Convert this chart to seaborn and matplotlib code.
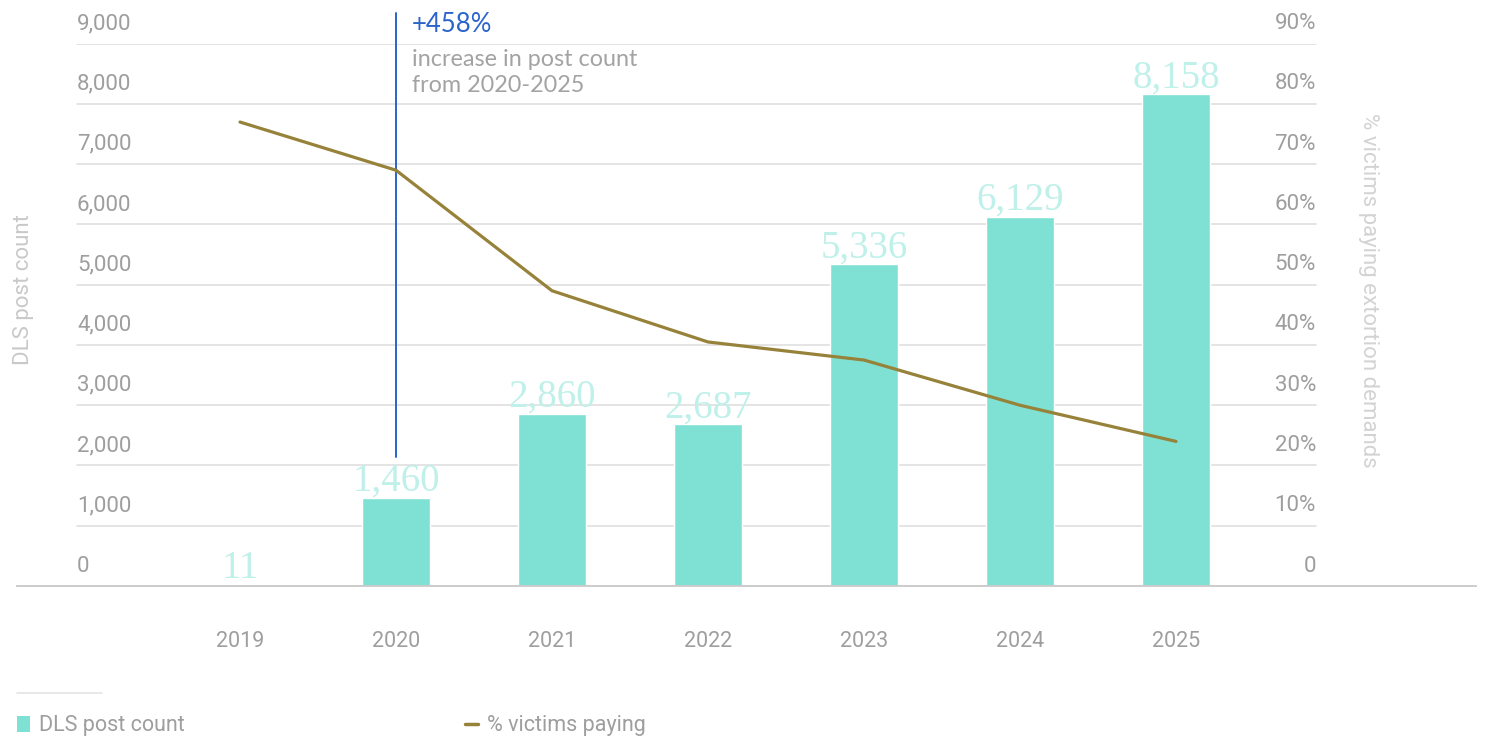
import numpy as np
import matplotlib
matplotlib.use("Agg")
import matplotlib.pyplot as plt
import seaborn as sns
from matplotlib.transforms import blended_transform_factory, ScaledTranslation
from matplotlib.patches import Patch
from matplotlib.lines import Line2D

# ---- data ----
years = ["2019", "2020", "2021", "2022", "2023", "2024", "2025"]
post_counts = [11, 1460, 2860, 2687, 5336, 6129, 8158]
pct_paying = [77, 69, 49, 40.5, 37.5, 30, 24]
count_ticks = [0, 1000, 2000, 3000, 4000, 5000, 6000, 7000, 8000, 9000]
pct_ticks = [0, 10, 20, 30, 40, 50, 60, 70, 80, 90]

# ---- style ----
BAR = "#7fe1d4"
BAR_LABEL = "#bff0e9"
LINE = "#97823a"
BLUE = "#2a64cc"
GRID = "#dcdcdc"
TICK = "#9e9e9e"
TITLE = "#c9c9c9"
NOTE = "#a3a3a3"

sns.set_style("white")
plt.rcParams["font.family"] = ["Roboto", "DejaVu Sans"]

W, H = 1490, 740
fig = plt.figure(figsize=(W / 100, H / 100), dpi=100)


def fx(px):
    return px / W


def fy(py):
    return 1 - py / H


# plot frame in pixel terms
left_px, right_px, base_px, top_px = 17, 1476, 586, 43.7
slot_px, first_px = 156, 240
ax = fig.add_axes([fx(left_px), fy(base_px), fx(right_px) - fx(left_px), fy(top_px) - fy(base_px)])

sns.barplot(x=years, y=post_counts, ax=ax, color=BAR, width=0.44, saturation=1, zorder=2)
ax.set_ylim(0, count_ticks[-1])
ax.set_xlim((left_px - first_px) / slot_px, (right_px - first_px) / slot_px)
ax.set_xlabel("")
ax.set_ylabel("")
ax.set_yticks([])

for s in ["top", "left", "right"]:
    ax.spines[s].set_visible(False)
ax.spines["bottom"].set_color("#cccccc")
ax.spines["bottom"].set_linewidth(1.4)

ax.tick_params(axis="x", length=0, pad=32.5, labelsize=15.5, labelcolor=TICK)

# horizontal gridlines (span only the inner area)
g0 = (77 - left_px) / (right_px - left_px)
g1 = (1316 - left_px) / (right_px - left_px)
for v in count_ticks[1:]:
    ax.axhline(v, xmin=g0, xmax=g1, color=GRID, lw=1.1, zorder=0.5)

# value labels above each bar
ax.bar_label(ax.containers[0], labels=[f"{v:,}" for v in post_counts], padding=-1.5,
             fontsize=28, family="Liberation Serif", color=BAR_LABEL)

# left tick labels, sitting above their gridlines
lift = ScaledTranslation(0, 14.5 / 100, fig.dpi_scale_trans)
tr_left = blended_transform_factory(ax.transAxes, ax.transData) + lift
for v in count_ticks:
    ax.text(g0, v, f"{v:,}", transform=tr_left, ha="left", va="baseline",
            fontsize=16, color=TICK)

# secondary axis with the payment-rate line
ax2 = ax.twinx()
sns.lineplot(x=np.arange(len(years)), y=pct_paying, ax=ax2, color=LINE, lw=2.3)
ax2.set_ylim(0, pct_ticks[-1])
ax2.set_yticks([])
ax2.set_ylabel("")
for s in ax2.spines.values():
    s.set_visible(False)

tr_right = blended_transform_factory(ax2.transAxes, ax2.transData) + lift
for v in pct_ticks:
    ax2.text(g1, v, "0" if v == 0 else f"{v}%", transform=tr_right, ha="right",
             va="baseline", fontsize=16, color=TICK)

# 2020 reference marker and note
ax.axvline(1, ymin=0.238, ymax=(base_px - 13) / (base_px - top_px), color=BLUE,
           lw=1.4, clip_on=False, zorder=3)
tr_note = blended_transform_factory(ax.transData, fig.transFigure) + \
    ScaledTranslation(16 / 100, 0, fig.dpi_scale_trans)
ax.text(1, fy(31.5), "+458%", transform=tr_note, ha="left", va="baseline",
        fontsize=18.5, family="Lato", color=BLUE)
ax.text(1, fy(66), "increase in post count", transform=tr_note, ha="left",
        va="baseline", fontsize=16.8, family="Lato", color=NOTE)
ax.text(1, fy(92), "from 2020-2025", transform=tr_note, ha="left",
        va="baseline", fontsize=16.8, family="Lato", color=NOTE)

# axis titles
fig.text(fx(24), fy(290), "DLS post count", rotation=90, ha="center", va="center",
         fontsize=16, color=TITLE)
fig.text(fx(1369), fy(290), "% victims paying extortion demands", rotation=270,
         ha="center", va="center", fontsize=16, color="#d3d3d3")

# legend
fig.add_artist(Line2D([fx(17), fx(102)], [fy(693), fy(693)], transform=fig.transFigure,
                      color="#e4e4e4", lw=1.2))
handles = [Patch(facecolor=BAR, edgecolor="none", label="DLS post count"),
           Line2D([], [], color=LINE, lw=2.5, label="% victims paying")]
fig.legend(handles=handles, loc="center left", bbox_to_anchor=(fx(17), fy(726)),
           ncol=2, frameon=False, fontsize=15.5, handlelength=0.62, handleheight=0.7,
           handletextpad=0.4, columnspacing=13, borderpad=0, borderaxespad=0,
           labelcolor=TICK)

fig.savefig("out.png", dpi=100)
